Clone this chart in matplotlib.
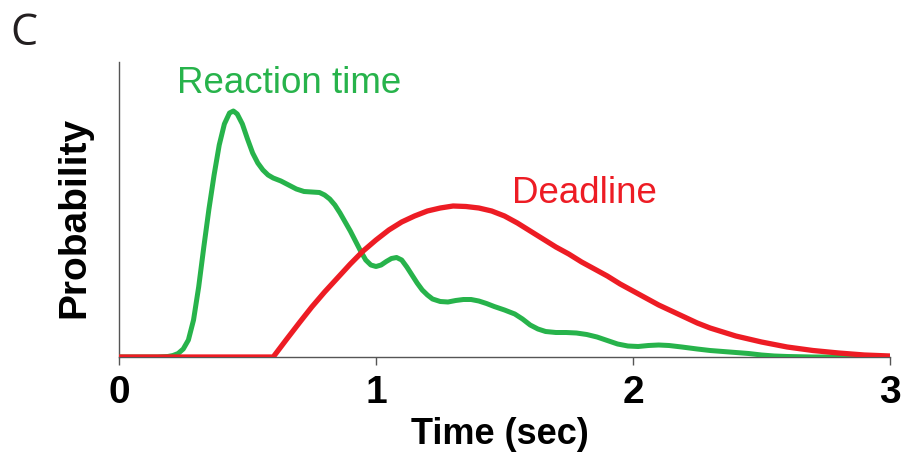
import matplotlib
matplotlib.use("Agg")
import matplotlib.pyplot as plt

# reaction time distribution (green)
rt_t = [0.0, 0.15, 0.19, 0.21, 0.23, 0.25, 0.27, 0.29, 0.31, 0.33, 0.35, 0.37,
        0.39, 0.41, 0.43, 0.445, 0.46, 0.48, 0.50, 0.52, 0.54, 0.56, 0.58, 0.60,
        0.63, 0.66, 0.69, 0.72, 0.75, 0.78, 0.80, 0.82, 0.84, 0.86, 0.88, 0.90,
        0.92, 0.94, 0.96, 0.98, 1.00, 1.02, 1.04, 1.06, 1.08, 1.10, 1.12, 1.14,
        1.16, 1.18, 1.20, 1.22, 1.25, 1.28, 1.31, 1.34, 1.37, 1.40, 1.43, 1.46,
        1.50, 1.54, 1.57, 1.60, 1.63, 1.66, 1.70, 1.74, 1.78, 1.82, 1.86, 1.90,
        1.94, 1.98, 2.02, 2.06, 2.10, 2.14, 2.19, 2.25, 2.30, 2.35, 2.40, 2.45,
        2.50, 2.55, 2.60, 2.70, 3.0]
rt_p = [0.0, 0.0, 0.005, 0.015, 0.035, 0.08, 0.17, 0.37, 0.70, 1.10, 1.48, 1.82,
        2.12, 2.33, 2.44, 2.46, 2.43, 2.33, 2.18, 2.04, 1.94, 1.87, 1.82, 1.79,
        1.76, 1.72, 1.68, 1.655, 1.65, 1.645, 1.62, 1.58, 1.52, 1.44, 1.35, 1.26,
        1.16, 1.06, 0.97, 0.92, 0.905, 0.92, 0.955, 0.985, 0.995, 0.97, 0.90, 0.82,
        0.74, 0.67, 0.62, 0.58, 0.555, 0.55, 0.565, 0.575, 0.575, 0.56, 0.535, 0.505,
        0.47, 0.43, 0.38, 0.32, 0.28, 0.255, 0.245, 0.245, 0.24, 0.225, 0.20, 0.165,
        0.13, 0.11, 0.105, 0.115, 0.12, 0.115, 0.10, 0.08, 0.065, 0.055, 0.045, 0.035,
        0.02, 0.01, 0.005, 0.0, 0.0]

# deadline distribution (red)
dl_t = [0.0, 0.6, 0.65, 0.704, 0.75, 0.8, 0.85, 0.9, 0.95, 1.0, 1.05, 1.1,
        1.15, 1.2, 1.25, 1.3, 1.35, 1.4, 1.45, 1.5, 1.55, 1.6, 1.65, 1.7,
        1.75, 1.8, 1.85, 1.9, 1.95, 2.0, 2.05, 2.1, 2.15, 2.2, 2.25, 2.3,
        2.35, 2.4, 2.45, 2.5, 2.6, 2.7, 2.8, 2.9, 3.0]
dl_p = [0.0, 0.0, 0.17, 0.35, 0.50, 0.65, 0.79, 0.93, 1.06, 1.17, 1.27, 1.35,
        1.41, 1.46, 1.49, 1.51, 1.505, 1.49, 1.46, 1.41, 1.34, 1.26, 1.18, 1.10,
        1.03, 0.95, 0.88, 0.81, 0.73, 0.66, 0.59, 0.52, 0.46, 0.40, 0.34, 0.29,
        0.25, 0.21, 0.18, 0.15, 0.10, 0.065, 0.04, 0.02, 0.01]

xticks = [0, 1, 2, 3]

green = '#27b34b'
red = '#ed1c24'
axis_col = '#555555'
sans = ['Liberation Sans', 'DejaVu Sans']

fig = plt.figure(figsize=(9.05, 4.6), dpi=100)
ax = fig.add_axes([119 / 905, 102 / 460, 771 / 905, 295 / 460])

ax.plot(rt_t, rt_p, color=green, lw=3.6, solid_capstyle='butt', solid_joinstyle='round', zorder=3)
ax.plot(dl_t, dl_p, color=red, lw=3.8, solid_capstyle='butt', solid_joinstyle='round', zorder=4)

ax.set_xlim(0, 3)
ax.set_ylim(0, 2.95)
for s in ['top', 'right']:
    ax.spines[s].set_visible(False)
for s in ['left', 'bottom']:
    ax.spines[s].set_color(axis_col)
    ax.spines[s].set_linewidth(1.0)

ax.set_yticks([])
ax.set_xticks(xticks)
ax.set_xticklabels([str(v) for v in xticks], family=sans, fontweight='bold', fontsize=28)
ax.tick_params(axis='x', direction='out', length=6, width=1.0, color=axis_col, pad=6)

ax.set_xlabel('Time (sec)', family=sans, fontweight='bold', fontsize=26)
ax.xaxis.set_label_coords(0.494, -0.2)
ax.set_ylabel('Probability', family=sans, fontweight='bold', fontsize=28)
ax.yaxis.set_label_coords(-0.035, 0.476)

ax.text(0.226, 2.65, 'Reaction time', color=green, fontsize=26.5,
        family=sans, va='baseline', ha='left', clip_on=False)
ax.text(1.529, 1.55, 'Deadline', color=red, fontsize=26.5,
        family=sans, va='baseline', ha='left')

fig.text(10 / 905, 1 - 45 / 460, 'C', fontsize=31, family=['Open Sans', 'DejaVu Sans'],
         va='baseline', ha='left', color='#231f20')

fig.savefig('out.png', dpi=100)
